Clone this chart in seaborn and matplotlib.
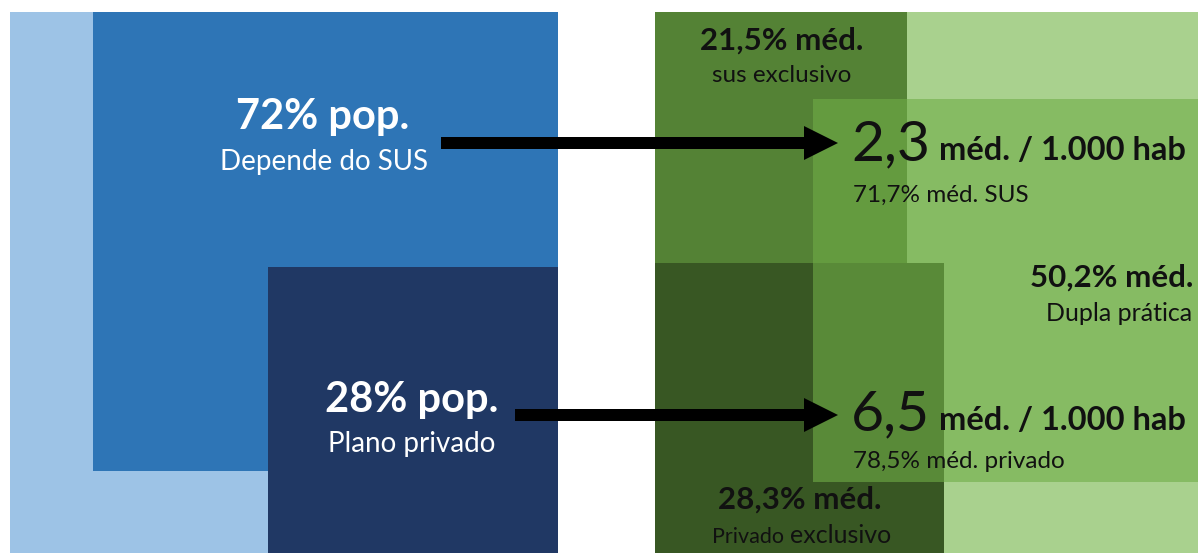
import matplotlib
matplotlib.use("Agg")
import matplotlib.pyplot as plt
import numpy as np
import seaborn as sns

# Data (shares in %, densities per 1000 inhabitants)
pop_share = [72, 28]
pop_labels = ["Depende do SUS", "Plano privado"]

med_share = [21.5, 50.2, 28.3]
med_labels = ["sus exclusivo", "Dupla prática", "Privado exclusivo"]

density = [2.3, 6.5]
density_sub = ["71,7% méd. SUS", "78,5% méd. privado"]

sns.set_theme(style="white")
plt.rcParams['font.family'] = ['Lato', 'DejaVu Sans']


def br(v):
    return f"{v:.1f}".replace('.', ',')


# Colours
blues = ["#9DC3E6", "#2E75B6", "#203864"]
greens = ["#A9D18E", "#548235", "#385723", "#70AD47"]
ink = "#111111"

fig = plt.figure(figsize=(11.98, 5.53), dpi=100)
ax = fig.add_axes([0, 0, 1, 1])
ax.set_xlim(0, 1198)
ax.set_ylim(553, 0)
ax.axis('off')

# Left panel: population (square area ~ share)
lx, ly, lw, lh = 10, 12, 548, 541
ax.bar(lx, lh, width=lw, bottom=ly, align='edge', color=blues[0], linewidth=0)
s = np.sqrt(pop_share[0] / 100)
ax.bar(lx + lw - s * lw, s * lh, width=s * lw, bottom=ly, align='edge',
       color=blues[1], linewidth=0)
s = np.sqrt(pop_share[1] / 100)
ax.bar(lx + lw - s * lw, s * lh, width=s * lw, bottom=ly + lh - s * lh,
       align='edge', color=blues[2], linewidth=0)

# Right panel: physicians (square area ~ share)
rx, ry, rw, rh = 655, 12, 543, 541
ax.bar(rx, rh, width=rw, bottom=ry, align='edge', color=greens[0], linewidth=0)
s = np.sqrt(med_share[0] / 100)
top_h = s * rh
ax.bar(rx, top_h, width=s * rw, bottom=ry, align='edge',
       color=greens[1], linewidth=0)
# private-only block fills the rest of the column below
s = np.sqrt(med_share[2] / 100)
ax.bar(rx, rh - top_h, width=s * rw, bottom=ry + top_h, align='edge',
       color=greens[2], linewidth=0)
s = np.sqrt(med_share[1] / 100)
ax.bar(rx + rw - s * rw, s * rh, width=s * rw, bottom=ry + 0.16 * rh,
       align='edge', color=greens[3], alpha=0.6, linewidth=0)

# Population labels
ax.text(323, 129, f"{pop_share[0]}% pop.", color='white', fontsize=30,
        fontweight='bold', ha='center', va='baseline')
ax.text(324, 170, pop_labels[0], color='white', fontsize=20,
        ha='center', va='baseline')
ax.text(412, 412, f"{pop_share[1]}% pop.", color='white', fontsize=30,
        fontweight='bold', ha='center', va='baseline')
ax.text(412, 452, pop_labels[1], color='white', fontsize=20,
        ha='center', va='baseline')

# Physician labels
ax.text(782, 50, f"{br(med_share[0])}% méd.", color=ink, fontsize=22.5,
        fontweight='bold', ha='center', va='baseline')
ax.text(782, 82, med_labels[0], color=ink, fontsize=17.5,
        ha='center', va='baseline')
ax.text(1193, 287, f"{br(med_share[1])}% méd.", color=ink, fontsize=22.5,
        fontweight='bold', ha='right', va='baseline')
ax.text(1192, 321, med_labels[1], color=ink, fontsize=18,
        ha='right', va='baseline')
ax.text(800, 509, f"{br(med_share[2])}% méd.", color=ink, fontsize=22.5,
        fontweight='bold', ha='center', va='baseline')
first, second = med_labels[2].split(' ', 1)
ax.text(784, 543, first, color=ink, fontsize=15.5,
        ha='right', va='baseline')
ax.text(790, 543, second, color=ink, fontsize=18,
        ha='left', va='baseline')

# Density labels and arrows
for y_base, y_sub, y_arrow, x_start, d, sub in zip(
        [160, 430], [202, 468], [143, 415], [441, 515], density, density_sub):
    ax.text(851, y_base, br(d), color=ink, fontsize=41,
            ha='left', va='baseline')
    ax.text(939, y_base, "méd. / 1.000 hab", color=ink, fontsize=23.5,
            fontweight='bold', ha='left', va='baseline')
    ax.text(853, y_sub, sub, color=ink, fontsize=17.5,
            ha='left', va='baseline')
    ax.arrow(x_start, y_arrow, 838 - x_start, 0, width=12, head_width=34,
             head_length=34, length_includes_head=True, color='black',
             linewidth=0)

fig.savefig("out.png", dpi=100)
